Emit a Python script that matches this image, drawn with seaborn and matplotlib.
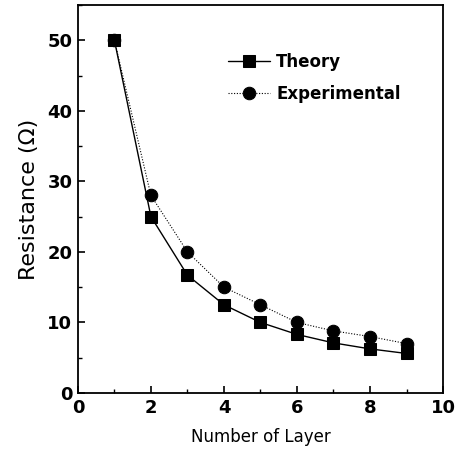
import matplotlib
matplotlib.use("Agg")
import matplotlib.pyplot as plt
import seaborn as sns
import pandas as pd
from matplotlib.ticker import MultipleLocator

layers = [1, 2, 3, 4, 5, 6, 7, 8, 9]
theory = [50, 25, 16.7, 12.5, 10, 8.3, 7.1, 6.25, 5.6]
experimental = [50, 28, 20, 15, 12.5, 10, 8.8, 8, 7]

sns.set_theme(style="ticks")
plt.rcParams["font.family"] = ["DejaVu Sans"]
plt.rcParams["text.color"] = "black"
plt.rcParams["axes.labelcolor"] = "black"

fig = plt.figure(figsize=(4.61, 4.53), dpi=100)
ax = fig.add_axes([0.169, 0.1325, 0.792, 0.8565])

df_t = pd.DataFrame({"x": layers, "y": theory})
df_e = pd.DataFrame({"x": layers, "y": experimental})

sns.lineplot(data=df_e, x="x", y="y", ax=ax, color="black", linestyle=(0, (1, 1.5)),
             linewidth=0.8, marker="o", markersize=9, markeredgecolor="black",
             label="Experimental", zorder=2)
sns.lineplot(data=df_t, x="x", y="y", ax=ax, color="black", linestyle="-",
             linewidth=1.0, marker="s", markersize=8.5, markeredgecolor="black",
             label="Theory", zorder=3)

ax.set_xlim(0, 10)
ax.set_ylim(0, 55)
ax.xaxis.set_major_locator(MultipleLocator(2))
ax.xaxis.set_minor_locator(MultipleLocator(1))
ax.yaxis.set_major_locator(MultipleLocator(10))
ax.yaxis.set_minor_locator(MultipleLocator(5))
ax.tick_params(which="both", direction="in", top=False, right=False, colors="black")
ax.tick_params(which="major", length=5, width=1.2, labelsize=13, pad=4)
ax.tick_params(which="minor", length=3, width=1.0)
for lbl in ax.get_xticklabels() + ax.get_yticklabels():
    lbl.set_fontweight("bold")
for s in ax.spines.values():
    s.set_linewidth(1.3)
    s.set_color("black")

ax.set_xlabel("Number of Layer", fontsize=12, labelpad=8, color="black")
ax.set_ylabel("Resistance (Ω)", fontsize=16, labelpad=6, color="black")

handles, labels = ax.get_legend_handles_labels()
order = [labels.index("Theory"), labels.index("Experimental")]
leg = ax.legend([handles[i] for i in order], [labels[i] for i in order],
                loc="upper left", bbox_to_anchor=(0.37, 0.915), frameon=False,
                prop={"size": 12, "weight": "bold"}, handlelength=2.5,
                handletextpad=0.4, labelspacing=0.85)
for t in leg.get_texts():
    t.set_color("black")

fig.savefig("out.png", dpi=100)
